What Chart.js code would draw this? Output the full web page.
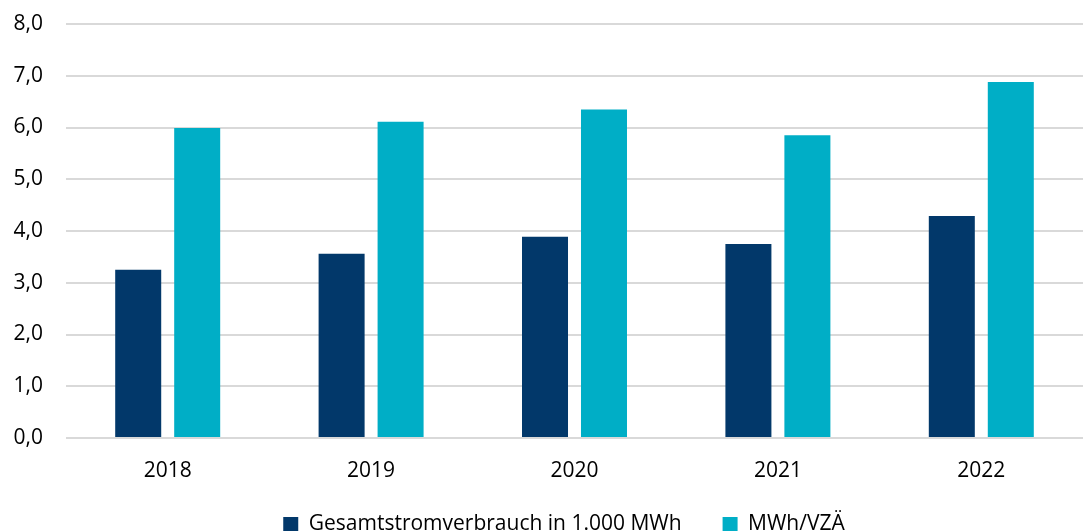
<!DOCTYPE html>
<html>
<head>
<meta charset="utf-8">
<script src="https://cdn.jsdelivr.net/npm/chart.js@4"></script>
<style>
  html, body { margin: 0; padding: 0; background: #fff; }
  #wrap { width: 1083px; height: 531px; }
</style>
</head>
<body>
<div id="wrap"><canvas id="chart"></canvas></div>
<script>
// Data
const years = ['2018', '2019', '2020', '2021', '2022'];
const gesamtstrom = [3.25, 3.56, 3.89, 3.75, 4.29];
const mwhProVza = [5.99, 6.11, 6.35, 5.85, 6.88];
const seriesNames = ['Gesamtstromverbrauch in 1.000 MWh', 'MWh/VZÄ'];

const fontFamily = "'Open Sans', 'Noto Sans', sans-serif";

new Chart(document.getElementById('chart').getContext('2d'), {
  type: 'bar',
  data: {
    labels: years,
    datasets: [{
      label: seriesNames[0],
      data: gesamtstrom,
      backgroundColor: '#02386A',
      categoryPercentage: 0.58,
      barPercentage: 0.78
    }, {
      label: seriesNames[1],
      data: mwhProVza,
      backgroundColor: '#00AEC6',
      categoryPercentage: 0.58,
      barPercentage: 0.78
    }]
  },
  options: {
    responsive: true,
    maintainAspectRatio: false,
    animation: false,
    layout: { padding: { top: 0, right: 0, left: 0, bottom: -14 } },
    scales: {
      x: {
        grid: { display: false },
        border: { display: false },
        ticks: { color: '#000', font: { family: fontFamily, size: 21 }, padding: 12 },
        afterFit: s => {
          s.height = 56;
          s.paddingLeft = 0;
          s.paddingRight = 0;
        }
      },
      y: {
        min: 0,
        max: 8,
        ticks: {
          stepSize: 1,
          color: '#000',
          padding: 23,
          font: { family: fontFamily, size: 21 },
          callback: v => v.toFixed(1).replace('.', ',')
        },
        grid: { color: '#d9d9d9', lineWidth: 2, drawTicks: false },
        border: { display: false },
        afterFit: s => {
          s.width = 66;
          s.paddingTop = 24;
          s.paddingBottom = 0;
        }
      }
    },
    plugins: {
      legend: {
        position: 'bottom',
        fullSize: false,
        labels: {
          color: '#000',
          boxWidth: 15,
          boxHeight: 15,
          padding: 20,
          font: { family: fontFamily, size: 21 },
          // widen the gap between the entries and nudge the row left
          generateLabels: chart => {
            const items = Chart.defaults.plugins.legend.labels.generateLabels(chart);
            items[0].text = items[0].text + '\u2003';
            items[1].text = items[1].text + '\u2003';
            return items;
          }
        }
      },
      tooltip: { enabled: false }
    }
  }
});
</script>
</body>
</html>
